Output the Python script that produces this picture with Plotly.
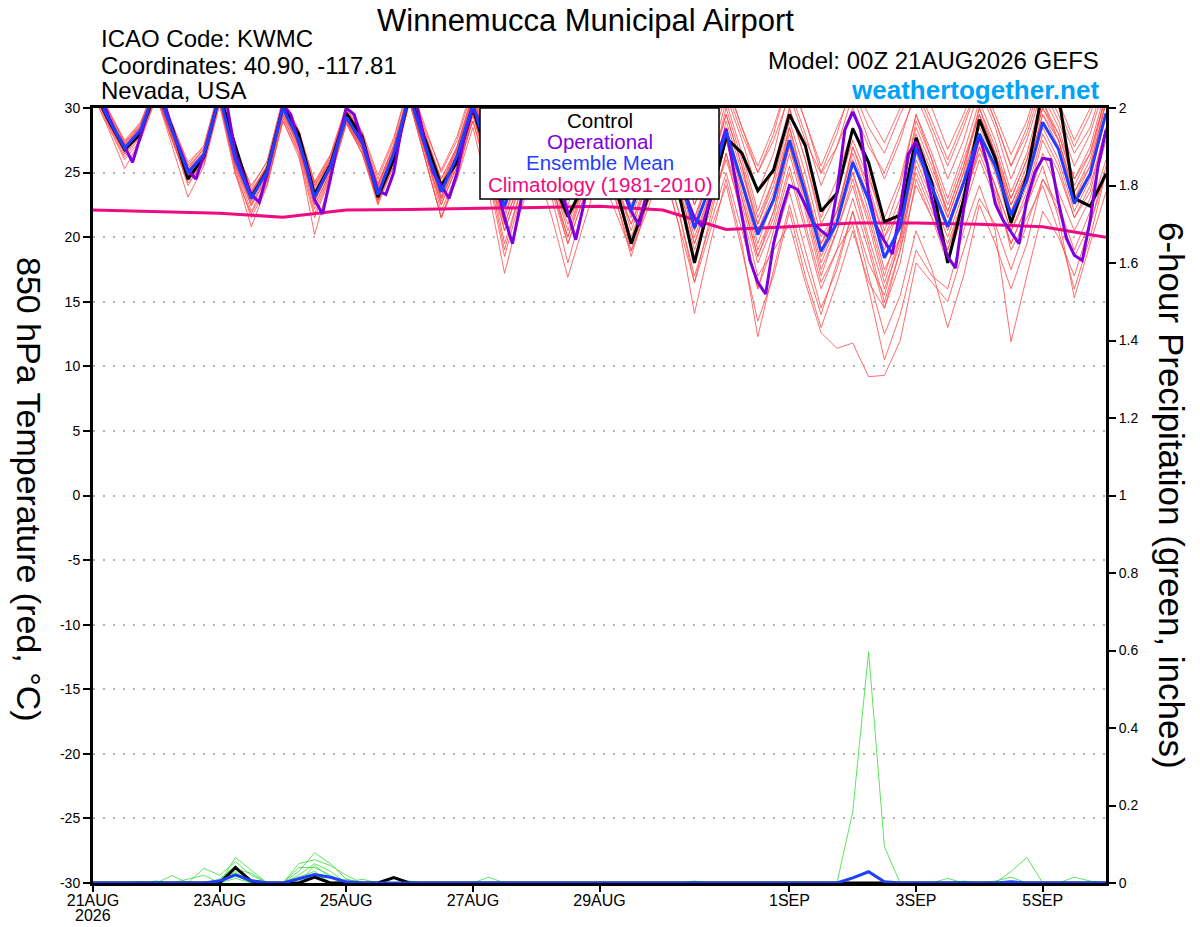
import pandas as pd
import plotly.graph_objects as go

# ---------------- data ----------------
# GEFS output every 6 h, operational GFS every 3 h, climatology daily
gefs_times = pd.date_range("2026-08-21 00:00", periods=65, freq="6h")
op_times = pd.date_range("2026-08-21 00:00", periods=129, freq="3h")
clim_times = pd.date_range("2026-08-21 00:00", periods=17, freq="24h")

# 850 hPa temperature (C)
ens_mean = [31.6, 29.1, 26.9, 28.3, 31.5, 28.2, 25.0, 26.4,
            31.0, 26.0, 23.0, 25.1, 30.0, 27.5, 23.1, 25.5,
            29.3, 27.3, 23.3, 26.5, 31.0, 27.0, 23.5, 26.3,
            30.3, 26.2, 22.4, 25.5, 28.5, 25.5, 22.9, 25.5,
            28.5, 25.5, 22.1, 25.5, 28.5, 25.0, 20.7, 24.0,
            28.2, 24.2, 20.2, 22.9, 27.5, 23.4, 18.9, 21.1,
            25.8, 22.9, 18.4, 20.8, 26.9, 23.9, 20.8, 24.2,
            28.0, 25.5, 21.7, 24.4, 28.9, 26.8, 22.6, 24.9,
            29.6]

control = [31.5, 29.0, 26.8, 28.0, 31.5, 28.5, 24.5, 26.2,
           31.0, 27.0, 23.1, 25.2, 30.1, 28.0, 23.3, 25.6,
           29.6, 27.8, 23.1, 26.0, 31.0, 27.5, 24.0, 25.8,
           30.0, 26.0, 22.9, 25.0, 28.0, 24.5, 21.6, 24.0,
           27.5, 24.0, 19.5, 22.9, 27.0, 23.5, 18.0, 22.9,
           27.7, 26.5, 23.6, 25.2, 29.5, 27.1, 22.0, 23.4,
           28.4, 25.8, 21.2, 21.7, 27.7, 24.2, 18.0, 22.9,
           29.1, 26.1, 21.1, 24.7, 31.5, 31.0, 23.0, 22.4,
           24.9]

operational = [32.0, 31.0, 29.3, 28.0, 27.0, 25.8, 27.8, 30.0,
               32.0, 30.5, 28.3, 26.8, 25.2, 24.5, 26.3, 28.5,
               31.5, 30.0, 26.5, 24.8, 23.3, 22.7, 24.9, 27.5,
               30.2, 29.5, 27.3, 25.5, 22.9, 21.8, 24.5, 27.5,
               30.0, 29.5, 27.5, 25.5, 23.6, 23.3, 25.0, 28.5,
               31.5, 30.0, 27.2, 25.0, 24.0, 23.0, 25.0, 28.0,
               30.0, 28.8, 26.5, 24.0, 21.5, 19.5, 22.5, 26.0,
               29.0, 28.0, 26.5, 24.0, 21.8, 19.8, 22.5, 25.5,
               28.0, 27.0, 25.5, 23.5, 22.0, 20.9, 23.5, 26.0,
               28.5, 27.5, 25.0, 23.0, 21.5, 20.8, 23.0, 26.5,
               28.4, 25.0, 21.5, 18.2, 16.5, 15.6, 19.5, 22.0,
               24.0, 23.7, 22.5, 21.1, 20.5, 20.0, 23.5, 28.3,
               29.7, 28.3, 23.4, 20.8, 19.7, 18.7, 22.1, 26.4,
               27.4, 25.5, 22.9, 20.3, 18.5, 17.6, 22.1, 25.5,
               27.9, 25.7, 22.6, 21.3, 20.4, 19.5, 22.9, 25.0,
               26.1, 26.0, 22.7, 19.9, 18.6, 18.2, 21.3, 25.5,
               28.3]

climatology = [22.1, 22.0, 21.85, 21.55, 22.1, 22.15, 22.2, 22.3, 22.4,
               22.1, 20.6, 20.8, 21.1, 21.1, 21.0, 20.8, 20.0]

members = [
    [32.0, 29.5, 27.2, 28.6, 31.8, 28.5, 25.3, 26.8, 31.2, 26.5, 23.4, 25.6, 30.5, 28.0, 23.6, 26.0,
     30.0, 28.0, 24.0, 27.2, 31.5, 27.8, 24.5, 27.0, 31.0, 27.5, 23.5, 26.8, 30.0, 27.0, 24.0, 27.0,
     30.5, 27.5, 24.0, 27.5, 31.0, 27.5, 23.5, 27.0, 31.0, 27.5, 23.5, 26.5, 31.5, 28.0, 24.0, 27.0,
     31.0, 27.5, 24.5, 27.5, 31.5, 28.5, 25.5, 28.5, 32.0, 29.0, 25.5, 28.0, 32.0, 29.5, 26.5, 28.5, 32.5],
    [31.5, 28.8, 26.5, 28.0, 31.0, 27.8, 24.5, 26.0, 30.5, 25.5, 22.5, 24.5, 29.5, 27.0, 22.5, 25.0,
     29.0, 26.5, 22.8, 26.0, 30.5, 26.5, 22.5, 25.5, 29.0, 25.0, 20.5, 24.0, 27.0, 23.5, 19.5, 23.0,
     26.5, 23.0, 19.0, 22.5, 26.0, 22.0, 17.0, 21.0, 25.0, 20.5, 16.0, 19.5, 23.5, 19.0, 14.5, 17.5,
     22.0, 17.0, 12.5, 15.5, 20.5, 17.5, 13.0, 17.0, 22.5, 19.5, 16.0, 19.5, 24.5, 22.0, 18.5, 21.0, 25.5],
    [31.8, 29.2, 27.0, 28.4, 31.5, 28.0, 24.8, 26.5, 31.0, 26.0, 23.2, 25.0, 30.0, 27.2, 22.8, 25.3,
     29.5, 27.0, 23.0, 26.5, 31.0, 27.0, 23.0, 26.0, 30.0, 26.0, 21.5, 25.0, 28.0, 25.0, 21.5, 24.5,
     28.0, 24.5, 20.5, 24.0, 27.5, 23.5, 19.0, 22.5, 26.0, 22.0, 17.0, 19.0, 21.0, 16.5, 12.6, 11.4,
     11.8, 9.2, 9.3, 12.0, 18.0, 16.5, 15.0, 19.0, 23.0, 21.0, 17.5, 21.0, 24.5, 22.5, 19.0, 22.0, 26.0],
    [31.2, 28.8, 26.6, 28.0, 31.0, 28.0, 24.8, 26.0, 30.8, 25.8, 22.8, 25.0, 29.8, 27.0, 22.5, 25.0,
     29.0, 27.5, 23.5, 26.8, 31.5, 27.5, 24.0, 26.5, 30.5, 27.0, 23.0, 26.0, 29.5, 26.5, 23.0, 26.0,
     29.0, 26.0, 22.5, 25.5, 29.5, 25.5, 21.0, 25.0, 30.0, 26.0, 21.5, 24.5, 29.0, 25.0, 20.0, 22.0,
     25.0, 21.5, 17.0, 21.0, 28.0, 25.0, 22.0, 25.5, 30.0, 27.0, 23.0, 26.0, 30.5, 28.0, 24.0, 26.5, 31.0],
    [31.4, 28.6, 26.2, 27.8, 31.2, 27.5, 24.2, 25.6, 30.5, 25.2, 21.5, 24.0, 29.2, 26.8, 22.2, 24.8,
     29.0, 26.8, 22.6, 25.8, 30.5, 26.0, 21.5, 25.0, 29.5, 25.5, 19.5, 23.5, 27.5, 24.0, 20.0, 24.0,
     27.0, 23.5, 19.5, 23.0, 26.5, 22.0, 16.5, 21.5, 26.5, 21.5, 16.0, 20.5, 25.0, 20.5, 16.0, 19.0,
     23.0, 19.0, 14.5, 18.0, 24.5, 21.5, 19.0, 23.0, 27.0, 24.0, 20.5, 23.5, 28.0, 25.5, 21.5, 24.0, 28.5],
    [32.2, 29.8, 27.4, 28.8, 32.0, 28.8, 25.8, 27.0, 31.5, 26.8, 24.0, 25.8, 30.8, 28.3, 24.2, 26.3,
     30.0, 28.0, 24.5, 27.5, 32.0, 28.5, 25.0, 27.5, 31.5, 28.0, 24.5, 27.5, 30.5, 27.5, 25.0, 28.0,
     31.0, 28.0, 25.0, 28.0, 31.5, 28.5, 26.0, 28.5, 32.0, 28.5, 25.0, 28.0, 32.5, 29.0, 25.0, 28.0,
     32.0, 29.5, 27.3, 30.0, 33.0, 30.0, 26.8, 29.5, 32.5, 29.5, 26.4, 29.0, 33.0, 30.5, 27.5, 30.0, 33.5],
    [31.6, 29.0, 26.6, 28.0, 31.3, 27.6, 24.0, 26.0, 30.6, 25.0, 20.8, 24.0, 29.0, 26.5, 20.2, 24.5,
     28.8, 26.5, 22.9, 25.5, 30.5, 26.0, 21.5, 24.5, 28.5, 23.5, 17.2, 22.0, 25.5, 21.5, 16.9, 21.0,
     25.0, 22.0, 18.9, 22.0, 25.5, 21.0, 14.1, 19.5, 24.5, 19.5, 12.3, 17.5, 22.5, 18.0, 14.0, 18.0,
     22.0, 18.0, 15.5, 20.0, 25.0, 22.0, 19.5, 23.0, 26.5, 23.5, 19.5, 22.5, 25.5, 21.5, 15.3, 19.5, 23.5],
    [31.0, 28.5, 26.0, 27.5, 30.8, 27.5, 24.5, 26.2, 31.0, 26.5, 23.5, 25.5, 30.2, 27.8, 24.0, 26.2,
     29.8, 27.8, 24.0, 27.0, 31.2, 27.2, 23.8, 26.8, 30.8, 27.0, 23.8, 26.5, 29.0, 26.0, 23.5, 26.5,
     30.0, 27.0, 23.5, 26.5, 30.0, 26.5, 22.5, 25.5, 29.5, 25.5, 21.0, 24.0, 28.5, 24.0, 19.5, 22.0,
     26.5, 23.0, 19.0, 22.5, 29.0, 26.0, 22.5, 26.0, 29.5, 26.5, 22.5, 25.5, 30.0, 27.5, 23.5, 26.0, 31.0],
    [31.8, 29.3, 27.1, 28.5, 31.5, 28.3, 25.1, 26.6, 31.2, 26.2, 23.1, 25.2, 30.0, 27.5, 23.3, 25.6,
     29.2, 27.0, 23.0, 26.0, 30.8, 26.8, 23.0, 25.8, 29.8, 25.8, 21.0, 24.5, 28.0, 24.5, 21.0, 24.0,
     27.5, 24.0, 20.0, 23.5, 27.0, 23.0, 18.5, 22.0, 26.5, 22.5, 18.0, 21.0, 25.5, 21.0, 16.5, 19.0,
     21.0, 16.0, 10.5, 14.0, 19.0, 17.0, 16.0, 20.5, 24.0, 20.5, 11.9, 17.0, 22.0, 20.0, 17.0, 21.0, 25.0],
    [31.6, 29.0, 26.8, 28.2, 31.4, 28.0, 24.8, 26.4, 30.8, 26.2, 23.3, 25.2, 30.0, 27.6, 23.4, 25.7,
     29.5, 27.5, 23.8, 26.8, 31.2, 27.5, 24.0, 27.0, 30.8, 27.0, 23.0, 26.0, 29.5, 26.5, 23.0, 26.0,
     29.5, 26.5, 23.0, 25.5, 29.0, 25.5, 21.5, 25.0, 29.5, 25.5, 20.5, 23.5, 28.0, 24.0, 18.5, 21.0,
     26.0, 22.0, 17.5, 20.0, 27.5, 24.0, 21.0, 24.5, 29.0, 26.0, 22.0, 25.0, 29.5, 27.0, 23.0, 25.0, 30.5],
    [31.5, 29.0, 26.7, 28.1, 31.2, 28.0, 24.9, 26.3, 30.8, 25.8, 22.6, 24.8, 29.8, 27.0, 22.8, 25.2,
     29.0, 27.0, 23.0, 26.0, 30.8, 26.5, 22.5, 25.5, 29.5, 25.5, 20.5, 24.0, 27.5, 24.0, 19.5, 23.0,
     26.5, 23.0, 18.5, 22.5, 25.5, 21.0, 16.5, 20.5, 24.0, 19.0, 13.5, 17.0, 22.0, 17.0, 13.0, 16.5,
     20.5, 16.5, 14.5, 19.0, 24.0, 21.5, 18.0, 22.0, 26.0, 23.0, 19.5, 22.5, 26.5, 23.5, 20.5, 23.0, 27.5],
    [32.0, 29.6, 27.3, 28.7, 31.8, 28.6, 25.5, 26.8, 31.3, 26.6, 23.6, 25.5, 30.4, 28.0, 24.0, 26.0,
     29.8, 27.8, 24.2, 27.0, 31.5, 28.0, 24.5, 27.0, 31.2, 27.8, 24.0, 27.0, 30.0, 27.0, 24.5, 27.5,
     30.5, 27.5, 24.5, 27.0, 30.5, 27.5, 24.0, 27.5, 31.5, 28.0, 25.0, 27.5, 31.0, 27.5, 24.9, 27.0,
     30.0, 27.0, 25.0, 28.0, 31.0, 28.0, 24.5, 27.5, 31.5, 28.5, 24.5, 27.5, 31.5, 29.0, 25.5, 28.0, 32.0],
    [31.3, 28.7, 26.4, 27.9, 31.0, 27.7, 24.4, 25.8, 30.4, 25.4, 22.0, 24.4, 29.4, 26.6, 21.8, 24.8,
     28.8, 26.8, 23.2, 26.2, 30.6, 26.6, 22.8, 25.8, 29.6, 25.6, 21.0, 24.5, 28.0, 24.5, 20.5, 24.0,
     27.5, 24.0, 21.0, 24.0, 28.0, 24.0, 19.5, 23.0, 27.5, 23.0, 18.5, 21.5, 26.5, 22.0, 17.0, 20.5,
     24.0, 19.5, 15.0, 19.0, 25.5, 22.5, 19.0, 22.5, 27.0, 24.0, 20.5, 23.0, 27.5, 25.0, 21.5, 23.5, 28.5],
    [31.7, 29.2, 27.0, 28.4, 31.6, 28.3, 25.2, 26.6, 31.1, 26.3, 23.2, 25.3, 30.2, 27.7, 23.5, 25.8,
     29.5, 27.5, 23.5, 26.5, 31.0, 27.0, 23.5, 26.5, 30.5, 26.5, 22.5, 26.0, 29.0, 26.0, 22.5, 25.5,
     28.5, 25.5, 21.5, 25.0, 28.5, 25.0, 20.5, 24.0, 28.0, 24.0, 19.5, 23.0, 27.0, 23.0, 18.0, 21.0,
     25.0, 21.0, 16.5, 20.0, 26.5, 23.5, 20.5, 24.0, 28.0, 25.0, 21.0, 24.0, 28.5, 26.0, 22.0, 24.5, 29.5],
    [32.1, 29.7, 27.5, 28.9, 31.9, 28.7, 25.6, 27.1, 31.6, 26.9, 23.8, 25.9, 30.6, 28.2, 24.3, 26.4,
     30.2, 28.2, 24.8, 27.7, 32.0, 28.2, 25.2, 27.8, 31.8, 28.2, 24.5, 27.5, 31.0, 28.0, 25.0, 28.0,
     31.5, 28.0, 25.5, 28.5, 32.0, 28.5, 25.5, 28.0, 32.0, 28.5, 25.5, 28.5, 32.5, 29.0, 25.5, 28.5,
     31.5, 28.5, 26.5, 29.5, 32.0, 29.0, 26.0, 29.0, 32.0, 29.0, 25.5, 28.5, 32.5, 30.0, 27.0, 29.5, 33.0],
    [31.5, 28.9, 26.6, 28.1, 31.3, 27.9, 24.6, 26.1, 30.7, 25.6, 22.4, 24.7, 29.6, 27.1, 22.9, 25.2,
     29.2, 27.2, 23.4, 26.4, 30.9, 26.8, 23.2, 26.0, 30.0, 26.0, 21.8, 25.0, 28.5, 25.0, 21.5, 24.5,
     28.0, 24.5, 21.0, 24.5, 28.5, 24.5, 20.0, 23.5, 28.0, 23.5, 19.0, 22.0, 27.0, 22.5, 17.5, 20.5,
     24.5, 20.0, 16.0, 19.5, 26.0, 23.0, 20.0, 23.5, 27.5, 24.0, 19.0, 21.5, 24.0, 20.5, 16.0, 20.0, 25.0],
    [31.4, 28.9, 26.9, 28.3, 31.4, 27.9, 24.8, 26.4, 31.0, 25.9, 23.0, 25.0, 29.9, 27.4, 23.0, 25.4,
     29.4, 27.4, 23.6, 26.6, 31.2, 27.2, 23.6, 26.4, 30.4, 26.6, 22.6, 25.6, 28.8, 25.8, 23.0, 25.8,
     29.0, 26.0, 22.0, 25.0, 29.0, 25.0, 21.5, 24.5, 28.5, 24.5, 20.5, 23.0, 28.5, 24.0, 19.5, 21.5,
     27.0, 24.0, 20.0, 22.0, 27.5, 24.5, 21.5, 25.0, 28.5, 26.0, 22.5, 25.0, 29.5, 27.5, 23.5, 25.5, 30.5],
    [31.7, 29.1, 26.8, 28.2, 31.6, 28.1, 24.9, 26.5, 30.9, 25.9, 22.9, 25.0, 29.9, 27.3, 22.9, 25.4,
     29.1, 26.9, 22.9, 26.0, 30.7, 26.5, 22.0, 25.0, 29.0, 24.5, 18.5, 23.0, 26.5, 23.0, 18.0, 22.5,
     27.0, 23.5, 19.5, 23.0, 27.5, 23.5, 18.0, 22.5, 27.5, 23.0, 18.5, 22.0, 27.5, 23.5, 19.0, 22.0,
     27.0, 23.5, 20.0, 23.0, 28.5, 25.5, 22.0, 25.5, 29.5, 26.5, 23.0, 26.0, 30.0, 28.0, 24.5, 26.5, 31.0],
    [31.9, 29.4, 27.2, 28.6, 31.7, 28.4, 25.3, 26.9, 31.3, 26.4, 23.5, 25.4, 30.3, 27.9, 23.8, 26.0,
     29.7, 27.7, 24.0, 27.0, 31.3, 27.6, 24.2, 26.8, 30.9, 27.2, 23.2, 26.4, 29.6, 26.6, 23.8, 26.6,
     29.8, 26.8, 23.2, 26.0, 30.0, 26.5, 22.5, 26.0, 30.5, 26.5, 22.0, 25.5, 30.0, 26.0, 21.0, 23.5,
     27.5, 24.5, 21.5, 24.5, 29.5, 26.5, 23.0, 26.5, 30.5, 27.5, 23.5, 26.5, 31.0, 28.5, 24.5, 27.0, 31.5],
    [31.0, 28.3, 25.3, 27.5, 31.0, 27.0, 23.1, 25.5, 30.2, 24.8, 21.8, 24.2, 29.0, 26.2, 21.5, 24.6,
     28.8, 26.5, 22.5, 25.5, 30.5, 26.0, 21.5, 24.5, 29.5, 25.0, 19.0, 23.5, 27.5, 24.0, 20.0, 23.5,
     27.0, 23.5, 19.5, 23.5, 28.0, 24.0, 19.5, 23.5, 29.0, 25.0, 21.0, 24.5, 30.0, 26.0, 21.5, 24.5,
     28.5, 25.0, 20.5, 24.0, 29.5, 26.0, 21.5, 25.0, 30.0, 26.5, 22.0, 25.0, 30.5, 27.5, 23.0, 25.5, 30.5],
]

# 6-hour precipitation (inches)
precip_members = [
    [0, 0, 0, 0, 0, 0.019, 0, 0, 0, 0.066, 0.034, 0, 0, 0.03, 0.078, 0.05,
     0.01, 0, 0, 0, 0, 0, 0, 0, 0, 0, 0, 0, 0, 0, 0, 0,
     0, 0, 0, 0, 0, 0, 0, 0, 0, 0, 0, 0, 0, 0, 0, 0,
     0, 0, 0, 0, 0, 0, 0, 0, 0, 0, 0, 0, 0, 0, 0, 0, 0],
    [0, 0, 0, 0, 0.005, 0, 0, 0.038, 0.02, 0.055, 0.02, 0, 0, 0.05, 0.06, 0.045,
     0.02, 0, 0, 0, 0, 0, 0, 0, 0, 0, 0, 0, 0, 0, 0, 0,
     0, 0, 0, 0, 0, 0, 0, 0, 0, 0, 0, 0, 0, 0, 0, 0,
     0, 0, 0, 0, 0, 0, 0, 0, 0, 0, 0, 0, 0, 0, 0, 0, 0],
    [0, 0, 0, 0, 0, 0, 0, 0, 0.01, 0.045, 0, 0, 0, 0.02, 0.05, 0.03,
     0, 0.01, 0, 0, 0, 0, 0, 0, 0, 0, 0, 0, 0, 0, 0, 0,
     0, 0, 0, 0, 0, 0, 0, 0, 0, 0, 0, 0, 0, 0, 0, 0,
     0.184, 0.597, 0.094, 0, 0, 0, 0, 0, 0, 0, 0, 0, 0, 0, 0, 0, 0],
    [0, 0, 0, 0, 0, 0, 0.01, 0.02, 0, 0.035, 0.025, 0, 0, 0.04, 0.04, 0.02,
     0, 0, 0, 0, 0, 0, 0, 0, 0, 0.015, 0, 0, 0, 0, 0, 0,
     0, 0, 0, 0, 0, 0, 0, 0, 0, 0, 0, 0, 0, 0, 0, 0,
     0, 0, 0, 0, 0, 0, 0, 0, 0, 0, 0, 0, 0, 0, 0, 0, 0],
    [0, 0, 0, 0, 0, 0, 0, 0, 0, 0.03, 0, 0, 0, 0.015, 0.03, 0,
     0, 0, 0, 0, 0, 0, 0, 0, 0, 0, 0, 0, 0, 0, 0, 0,
     0, 0, 0, 0, 0, 0, 0, 0, 0, 0, 0, 0, 0, 0, 0, 0,
     0, 0, 0, 0, 0, 0, 0, 0, 0, 0, 0.03, 0.066, 0, 0, 0, 0, 0],
    [0, 0, 0, 0, 0, 0, 0, 0, 0, 0.02, 0, 0, 0, 0, 0.025, 0,
     0.01, 0, 0, 0, 0, 0, 0, 0, 0, 0, 0, 0, 0, 0, 0, 0,
     0, 0, 0, 0, 0, 0, 0.005, 0, 0, 0, 0, 0, 0, 0, 0, 0,
     0, 0, 0, 0, 0, 0, 0.012, 0, 0, 0.005, 0.015, 0, 0, 0, 0, 0, 0],
    [0, 0, 0, 0, 0, 0, 0, 0, 0.008, 0.025, 0, 0, 0, 0, 0.045, 0.015,
     0, 0, 0, 0, 0, 0, 0, 0, 0, 0, 0, 0, 0, 0, 0, 0,
     0, 0, 0, 0, 0, 0, 0, 0, 0, 0, 0, 0, 0, 0, 0, 0,
     0, 0, 0, 0, 0, 0, 0, 0.005, 0, 0, 0, 0, 0, 0, 0.015, 0.005, 0],
    [0, 0, 0, 0.004, 0, 0, 0, 0, 0, 0.012, 0, 0, 0, 0.008, 0.02, 0,
     0, 0, 0, 0, 0.005, 0, 0, 0, 0, 0, 0, 0, 0, 0, 0, 0,
     0, 0, 0, 0, 0, 0, 0, 0, 0, 0, 0, 0, 0, 0, 0, 0,
     0, 0, 0, 0, 0, 0, 0, 0, 0, 0, 0, 0, 0, 0, 0, 0, 0],
]

precip_control = [0, 0, 0, 0, 0, 0, 0, 0, 0, 0.04, 0.005, 0, 0, 0, 0.015, 0,
                  0, 0, 0, 0.014, 0, 0, 0, 0, 0, 0, 0, 0, 0, 0, 0, 0,
                  0, 0, 0, 0, 0, 0, 0, 0, 0, 0, 0, 0, 0, 0, 0, 0,
                  0, 0, 0, 0, 0, 0, 0, 0, 0, 0, 0, 0, 0, 0, 0, 0, 0]

precip_mean = [0, 0, 0, 0, 0, 0, 0, 0, 0.005, 0.021, 0.006, 0, 0, 0.012, 0.022, 0.015,
               0.003, 0, 0, 0, 0, 0, 0, 0, 0, 0, 0, 0, 0, 0, 0, 0,
               0, 0, 0, 0, 0, 0, 0, 0, 0, 0, 0, 0, 0, 0, 0, 0,
               0.013, 0.029, 0.003, 0, 0, 0, 0, 0, 0, 0, 0.003, 0, 0, 0, 0, 0, 0]

tick_dates = ["2026-08-21", "2026-08-23", "2026-08-25", "2026-08-27",
              "2026-08-29", "2026-09-01", "2026-09-03", "2026-09-05"]
tick_text = ["21AUG", "23AUG", "25AUG", "27AUG",
             "29AUG", "1SEP", "3SEP", "5SEP"]
start_year = "2026"

temp_ticks = [-30, -25, -20, -15, -10, -5, 0, 5, 10, 15, 20, 25, 30]
temp_tick_text = ["-30", "-25", "-20", "-15", "-10", "-5", "0",
                  "5", "10", "15", "20", "25", "30"]

# ---------------- figure ----------------
FONT = "Liberation Sans, Arial, Helvetica, sans-serif"
RED = "#FF4A4A"
GREEN = "#33DD33"
PURPLE = "#7F00DF"
BLUE = "#1F3FFF"
PINK = "#EE0A80"

fig = go.Figure()

for m in members:
    fig.add_trace(go.Scatter(x=gefs_times, y=m, mode="lines",
                             line=dict(color=RED, width=0.8)))

for p in precip_members:
    fig.add_trace(go.Scatter(x=gefs_times, y=p, mode="lines", yaxis="y2",
                             line=dict(color=GREEN, width=0.8)))

fig.add_trace(go.Scatter(x=gefs_times, y=precip_control, mode="lines", yaxis="y2",
                         line=dict(color="black", width=3)))
fig.add_trace(go.Scatter(x=gefs_times, y=precip_mean, mode="lines", yaxis="y2",
                         line=dict(color=BLUE, width=3)))

fig.add_trace(go.Scatter(x=clim_times, y=climatology, mode="lines",
                         line=dict(color=PINK, width=3)))
fig.add_trace(go.Scatter(x=gefs_times, y=control, mode="lines",
                         line=dict(color="black", width=3)))
fig.add_trace(go.Scatter(x=op_times, y=operational, mode="lines",
                         line=dict(color=PURPLE, width=3)))
fig.add_trace(go.Scatter(x=gefs_times, y=ens_mean, mode="lines",
                         line=dict(color=BLUE, width=3)))


# helpers: window pixels -> paper coordinates (plot box 93..1106 x 108..883)
def px_x(X):
    return (X - 93) / 1013.0


def px_y(Y):
    return (883 - Y) / 775.0


annotations = [
    dict(text="Winnemucca Municipal Airport", x=px_x(585), y=px_y(20.3), xanchor="center",
         yanchor="middle", font=dict(size=31, color="black")),
    dict(text="ICAO Code: KWMC", x=px_x(99), y=px_y(38), xanchor="left",
         yanchor="middle", font=dict(size=24, color="black")),
    dict(text="Coordinates: 40.90, -117.81", x=px_x(99), y=px_y(65), xanchor="left",
         yanchor="middle", font=dict(size=24, color="black")),
    dict(text="Nevada, USA", x=px_x(99), y=px_y(91), xanchor="left",
         yanchor="middle", font=dict(size=24, color="black")),
    dict(text="Model: 00Z 21AUG2026 GEFS", x=px_x(1101), y=px_y(60.5), xanchor="right",
         yanchor="middle", font=dict(size=24, color="black")),
    dict(text="<b>weathertogether.net</b>", x=px_x(1101), y=px_y(90), xanchor="right",
         yanchor="middle", font=dict(size=26, color="#00A2FA")),
    dict(text="850 hPa Temperature (red, °C)", x=px_x(29), y=px_y(489), textangle=90,
         xanchor="center", yanchor="middle", font=dict(size=34, color="black")),
    dict(text="6-hour Precipitation (green, inches)", x=px_x(1172), y=px_y(495), textangle=90,
         xanchor="center", yanchor="middle", font=dict(size=35, color="black")),
    dict(text="Control", x=px_x(600), y=px_y(120), xanchor="center",
         yanchor="middle", font=dict(size=20.5, color="black")),
    dict(text="Operational", x=px_x(600), y=px_y(141.5), xanchor="center",
         yanchor="middle", font=dict(size=20.5, color=PURPLE)),
    dict(text="Ensemble Mean", x=px_x(600), y=px_y(163), xanchor="center",
         yanchor="middle", font=dict(size=20.5, color=BLUE)),
    dict(text="Climatology (1981-2010)", x=px_x(600), y=px_y(184.5), xanchor="center",
         yanchor="middle", font=dict(size=20.5, color=PINK)),
    dict(text=start_year, x=px_x(93), y=px_y(915), xanchor="center",
         yanchor="middle", font=dict(size=16, color="black")),
]
for a in annotations:
    a.update(xref="paper", yref="paper", showarrow=False)

fig.update_layout(
    width=1200, height=927, autosize=False,
    margin=dict(l=93, r=94, t=108, b=44, autoexpand=False),
    paper_bgcolor="white", plot_bgcolor="white",
    font=dict(family=FONT, color="black"),
    showlegend=False,
    annotations=annotations,
    shapes=[dict(type="rect", xref="paper", yref="paper",
                 x0=px_x(480), x1=px_x(719), y0=px_y(199), y1=1.0,
                 fillcolor="white", line=dict(color="black", width=1.5), layer="above")],
    xaxis=dict(type="date", range=["2026-08-21 00:00", "2026-09-06 00:00"],
               tickvals=tick_dates, ticktext=tick_text, tickfont=dict(size=16),
               showgrid=False, zeroline=False, showline=True, linewidth=3,
               linecolor="black", mirror=True, ticks="outside", ticklen=6,
               tickwidth=1.5, tickcolor="black", automargin=False,
               ticklabelstandoff=-5),
    yaxis=dict(range=[-30, 30], tickvals=temp_ticks, ticktext=temp_tick_text,
               tickfont=dict(size=14),
               showgrid=True, gridcolor="#B4B4B4", griddash="2px,8px", gridwidth=1.5,
               zeroline=False, showline=True, linewidth=3, linecolor="black",
               mirror=True, ticks="outside", ticklen=7, tickwidth=1.5, tickcolor="black",
               automargin=False),
    yaxis2=dict(range=[0, 2], dtick=0.2, tick0=0, overlaying="y", side="right",
                tickfont=dict(size=14), showgrid=False, zeroline=False,
                showline=True, linewidth=3, linecolor="black", ticks="outside",
                ticklen=7, tickwidth=1.5, tickcolor="black", automargin=False),
)

# drop the page's default 8 px body margin so the figure sits at the window corner
fig.write_html("out.html", config={"displayModeBar": False},
               post_script="document.body.style.margin = '0';")
